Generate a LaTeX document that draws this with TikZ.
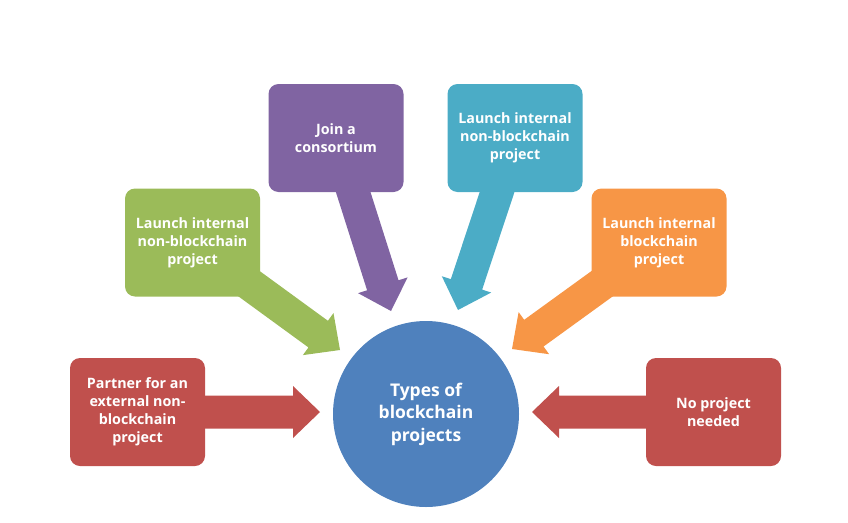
\documentclass[tikz,border=0pt]{standalone}
\usepackage{fontspec}
\setmainfont{Open Sans}
\usetikzlibrary{calc}
\pgfdeclarelayer{background}
\pgfsetlayers{background,main}
\definecolor{cred}{HTML}{C0504D}
\definecolor{cgreen}{HTML}{9BBB59}
\definecolor{cpurple}{HTML}{8064A2}
\definecolor{cteal}{HTML}{4BACC6}
\definecolor{corange}{HTML}{F79646}
\definecolor{cblue}{HTML}{4F81BD}
\newcommand\fatarrow[3]{%
  \path ($(#2)!27pt!(#1)$) coordinate (#1hb);
  \fill[#3] ($(#1)!16.5pt!90:(#2)$) -- ($(#1hb)!16.5pt!-90:(#1)$) -- ($(#1hb)!26pt!-90:(#1)$) -- (#2)
    -- ($(#1hb)!26pt!90:(#1)$) -- ($(#1hb)!16.5pt!90:(#1)$) -- ($(#1)!16.5pt!-90:(#2)$) -- cycle;}
\tikzset{
  box/.style={rectangle, rounded corners=10pt, minimum width=135pt, minimum height=108pt,
    inner sep=0pt, align=center, text=white, font=\bfseries\fontsize{14.3}{18}\selectfont},
  hub/.style={circle, fill=cblue, minimum size=186pt, inner sep=0pt, align=center,
    text=white, font=\bfseries\fontsize{17.5}{22.5}\selectfont}
}
\begin{document}
\begin{tikzpicture}[x=1pt,y=-1pt]
\useasboundingbox (0,0) rectangle (848,522);
\node[hub] (hub) at (426,414) {Types of\\blockchain\\projects};
\node[box, fill=cred] (redL) at (137.5,412) {Partner for an\\external non-\\blockchain\\project};
\node[box, fill=cgreen] (green) at (192.5,242.5) {Launch internal\\non-blockchain\\project};
\node[box, fill=cpurple] (purple) at (336,138) {Join a\\consortium};
\node[box, fill=cteal] (teal) at (515,138) {Launch internal\\non-blockchain\\project};
\node[box, fill=corange] (orange) at (659,242.5) {Launch internal\\blockchain\\project};
\node[box, fill=cred] (redR) at (713.5,412) {No project\\needed};
\coordinate (tRedL) at (320,412);
\coordinate (tGreen) at (340,350);
\coordinate (tPurple) at (391,311);
\coordinate (tTeal) at (458,310);
\coordinate (tOrange) at (512,349);
\coordinate (tRedR) at (532,412);
\begin{pgfonlayer}{background}
\fatarrow{redL}{tRedL}{cred}
\fatarrow{green}{tGreen}{cgreen}
\fatarrow{purple}{tPurple}{cpurple}
\fatarrow{teal}{tTeal}{cteal}
\fatarrow{orange}{tOrange}{corange}
\fatarrow{redR}{tRedR}{cred}
\end{pgfonlayer}
\end{tikzpicture}
\end{document}
